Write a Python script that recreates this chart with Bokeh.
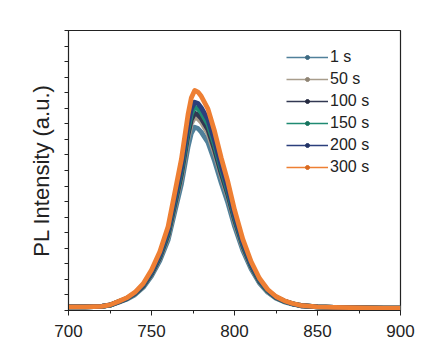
from bokeh.plotting import figure
from bokeh.models import (Range1d, FixedTicker, Legend, LegendItem,
                          ColumnDataSource)
from bokeh.embed import file_html
from bokeh.resources import INLINE

# ---- data (normalised PL intensity) ----
wavelength = [700, 710, 720, 725, 730, 735, 740, 745, 750, 755, 760, 764, 768,
              772, 774, 776, 778, 780, 784, 788, 792, 796, 800, 805, 810, 815,
              820, 825, 830, 835, 840, 850, 860, 870, 880, 890, 900]

pl_1s = [0.013, 0.013, 0.015, 0.019, 0.029, 0.040, 0.056, 0.082, 0.123, 0.177,
         0.251, 0.351, 0.450, 0.583, 0.633, 0.655, 0.650, 0.637, 0.600, 0.533,
         0.455, 0.384, 0.301, 0.214, 0.148, 0.098, 0.065, 0.044, 0.031, 0.023,
         0.017, 0.013, 0.011, 0.010, 0.009, 0.008, 0.008]
pl_50s = [0.013, 0.013, 0.015, 0.019, 0.030, 0.041, 0.059, 0.086, 0.129, 0.186,
          0.264, 0.370, 0.475, 0.615, 0.667, 0.690, 0.685, 0.672, 0.632, 0.562,
          0.479, 0.405, 0.317, 0.225, 0.155, 0.102, 0.067, 0.045, 0.032, 0.024,
          0.017, 0.013, 0.011, 0.010, 0.009, 0.008, 0.008]
pl_100s = [0.013, 0.013, 0.015, 0.019, 0.030, 0.042, 0.060, 0.087, 0.131, 0.189,
           0.270, 0.377, 0.485, 0.628, 0.682, 0.705, 0.699, 0.686, 0.646, 0.574,
           0.489, 0.413, 0.324, 0.230, 0.158, 0.104, 0.069, 0.046, 0.033, 0.024,
           0.017, 0.013, 0.011, 0.010, 0.009, 0.008, 0.008]
pl_150s = [0.013, 0.013, 0.015, 0.019, 0.031, 0.042, 0.061, 0.090, 0.135, 0.195,
           0.278, 0.388, 0.499, 0.646, 0.702, 0.726, 0.720, 0.706, 0.665, 0.591,
           0.504, 0.425, 0.333, 0.236, 0.162, 0.107, 0.070, 0.047, 0.033, 0.024,
           0.018, 0.013, 0.011, 0.010, 0.009, 0.008, 0.008]
pl_200s = [0.013, 0.013, 0.015, 0.020, 0.031, 0.043, 0.062, 0.092, 0.138, 0.199,
           0.285, 0.398, 0.512, 0.663, 0.720, 0.744, 0.739, 0.724, 0.682, 0.606,
           0.516, 0.436, 0.341, 0.242, 0.166, 0.110, 0.072, 0.048, 0.034, 0.024,
           0.018, 0.013, 0.011, 0.010, 0.009, 0.008, 0.008]
pl_300s = [0.013, 0.013, 0.015, 0.020, 0.032, 0.045, 0.065, 0.096, 0.145, 0.210,
           0.300, 0.420, 0.540, 0.700, 0.760, 0.786, 0.780, 0.765, 0.720, 0.640,
           0.545, 0.460, 0.360, 0.255, 0.175, 0.115, 0.075, 0.050, 0.035, 0.025,
           0.018, 0.013, 0.011, 0.010, 0.009, 0.008, 0.008]

series_labels = ["1 s", "50 s", "100 s", "150 s", "200 s", "300 s"]
series_values = [pl_1s, pl_50s, pl_100s, pl_150s, pl_200s, pl_300s]
series_colors = ["#50809a", "#a89d8c", "#323852", "#1f8a72", "#2b3f7c", "#ee7f33"]
marker_colors = ["#3d6a82", "#8f8474", "#252a40", "#17735e", "#223366", "#d96a20"]

x_ticks = [700, 750, 800, 850, 900]
x_minor = [725, 775, 825, 875]
y_ticks_all = [i / 18 for i in range(19)]

FONT = "Liberation Sans"

p = figure(width=441, height=353, output_backend="svg", toolbar_location=None,
           x_range=Range1d(700, 900), y_range=Range1d(0, 1),
           min_border_left=68, min_border_right=41, min_border_top=30,
           min_border_bottom=43)
p.grid.visible = False
p.outline_line_color = "#222222"
p.outline_line_width = 1.2
p.background_fill_color = "white"
p.border_fill_color = "white"

for vals, col in zip(series_values, series_colors):
    src = ColumnDataSource(dict(x=wavelength, y=vals))
    p.line("x", "y", source=src, line_color=col, line_width=4.8,
           line_join="round")

# legend-only renderers (a single NaN point, nothing drawn on the plot)
nan = float("nan")
legend_items = []
for lab, col, mcol in zip(series_labels, series_colors, marker_colors):
    l = p.line(x=[nan, nan], y=[nan, nan], line_color=col, line_width=1.6)
    m = p.scatter(x=[nan], y=[nan], size=4, fill_color=mcol, line_color=mcol)
    legend_items.append(LegendItem(label=lab, renderers=[l, m]))

legend = Legend(items=legend_items, location=(218, 133), padding=0, margin=0,
                spacing=2, glyph_width=42, glyph_height=10, label_height=20,
                label_standoff=2, border_line_alpha=0, background_fill_alpha=0,
                label_text_font=FONT, label_text_font_size="16px",
                label_text_color="#222222")
p.add_layout(legend)

xa = p.xaxis[0]
xa.ticker = FixedTicker(ticks=x_ticks, minor_ticks=x_minor)
xa.major_label_text_font = FONT
xa.major_label_text_font_size = "17px"
xa.major_label_text_color = "#222222"
xa.major_label_standoff = 9
xa.major_tick_in = 0
xa.major_tick_out = 5
xa.minor_tick_in = 0
xa.minor_tick_out = 3
xa.axis_line_color = "#222222"
xa.major_tick_line_color = "#222222"
xa.minor_tick_line_color = "#222222"

ya = p.yaxis[0]
ya.ticker = FixedTicker(ticks=[], minor_ticks=y_ticks_all)
ya.minor_tick_in = 0
ya.minor_tick_out = 4
ya.major_tick_out = 0
ya.major_tick_in = 0
ya.major_label_standoff = 0
ya.axis_line_color = "#222222"
ya.minor_tick_line_color = "#222222"
ya.axis_label = "PL Intensity (a.u.)"
ya.axis_label_text_font = FONT
ya.axis_label_text_font_size = "22px"
ya.axis_label_text_font_style = "normal"
ya.axis_label_text_color = "#222222"
ya.axis_label_standoff = 11

open("out.html", "w").write(file_html(p, INLINE))
